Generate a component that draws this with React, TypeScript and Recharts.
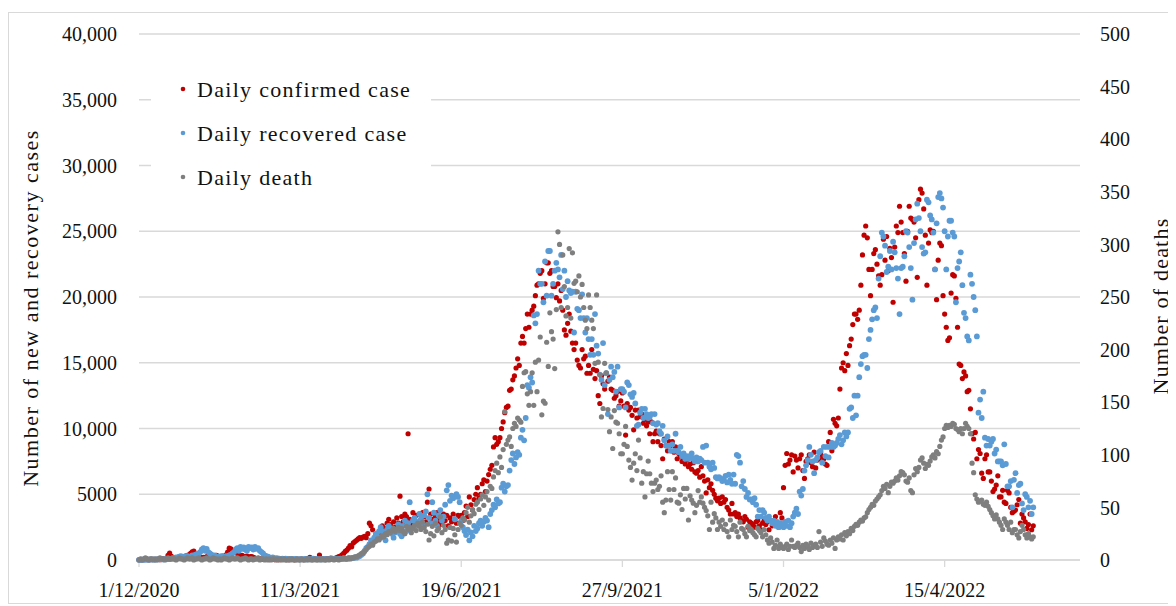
import React from 'react';
import { ScatterChart, Scatter, XAxis, YAxis, CartesianGrid, Legend } from 'recharts';

// Day index 0 = 1/12/2020; ticks every 100 days
const dateTicks = [0, 100, 200, 300, 400, 500];
const dateLabels = ['1/12/2020', '11/3/2021', '19/6/2021', '27/9/2021', '5/1/2022', '15/4/2022'];
const leftTicks = [0, 5000, 10000, 15000, 20000, 25000, 30000, 35000, 40000];
const leftTickLabels = ['0', '5000', '10,000', '15,000', '20,000', '25,000', '30,000', '35,000', '40,000'];
const rightTicks = [0, 50, 100, 150, 200, 250, 300, 350, 400, 450, 500];

const seriesNames = ['Daily confirmed case', 'Daily recovered case', 'Daily death'];
const seriesColors = ['#C00000', '#5B9BD5', '#7F7F7F'];

const confirmed = [
  20, 30, 10, 40, 20, 60, 30, 20, 50, 40,
  30, 50, 40, 20, 60, 80, 50, 40, 350, 530,
  300, 150, 100, 120, 200, 150, 180, 250, 200, 300,
  350, 400, 500, 620, 680, 450, 300, 250, 200, 150,
  200, 150, 250, 300, 200, 100, 150, 200, 350, 300,
  250, 200, 300, 250, 400, 600, 900, 850, 700, 650,
  700, 500, 400, 300, 350, 280, 250, 300, 200, 250,
  250, 200, 150, 100, 120, 80, 60, 50, 70, 40,
  50, 30, 40, 60, 30, 50, 20, 40, 30, 50,
  40, 30, 50, 20, 60, 40, 30, 20, 40, 50,
  60, 40, 30, 50, 80, 100, 200, 120, 60, 50,
  70, 50, 380, 120, 60, 50, 80, 60, 100, 150,
  120, 100, 150, 200, 250, 300, 400, 500, 650, 750,
  900, 1100, 1000, 1300, 1400, 1500, 1600, 1700, 1650, 1750,
  1800, 1700, 2000, 2800, 2600, 2300, 1500, 1900, 1800, 2100,
  2200, 2600, 2400, 2000, 2800, 3100, 2700, 2400, 2900, 2500,
  3200, 2800, 4850, 3300, 2900, 3500, 3300, 9600, 3100, 2700,
  3600, 3200, 3400, 2800, 3500, 3100, 3600, 3300, 2900, 4400,
  5400, 3500, 3100, 2800, 3300, 3600, 3000, 2700, 3300, 3500,
  3000, 3400, 2600, 3200, 2900, 3500, 3100, 2800, 3400, 3300,
  3400, 3000, 3600, 4100, 3300, 4800, 4200, 3800, 4600, 5000,
  5500, 4700, 5000, 5800, 6100, 5200, 6000, 6500, 6900, 7200,
  8600, 9300, 8800, 9000, 9300, 10000, 10500, 11200, 11600, 11700,
  12900, 13000, 13700, 14000, 14600, 15300, 14800, 16500, 17000, 16500,
  17600, 18700, 17700, 18700, 19000, 19300, 20100, 20900, 21000, 21800,
  22000, 19900, 21000, 22600, 22600, 21800, 22000, 20800, 20800, 19950,
  21000, 19700, 20500, 19000, 17500, 17100, 18000, 18700, 17400, 16500,
  16000, 16500, 15200, 14800, 14600, 16000, 15300, 15500, 14200, 14800,
  14200, 16000, 14500, 13800, 14400, 12500, 11900, 14000, 13400, 13000,
  14200, 13600, 13900, 13000, 12900, 12300, 12500, 12800, 11700, 12100,
  12700, 11700, 9500, 11900, 11400, 11600, 11000, 9900, 11400, 10800,
  11400, 10900, 11100, 10400, 10700, 10200, 10500, 9600, 10500, 9000,
  9600, 9800, 9000, 9600, 8700, 7700, 9200, 8700, 8300, 9000,
  8700, 9000, 8200, 8600, 7700, 8100, 7900, 7500, 7800, 7300,
  7600, 7100, 7300, 6900, 7400, 6700, 6600, 6800, 6300, 7100,
  6400, 6000, 5100, 6100, 5500, 5800, 5300, 5000, 4700, 4500,
  4700, 4300, 4800, 4400, 4600, 4000, 3800, 3500, 4300, 3500,
  3600, 3300, 3500, 3200, 3000, 2900, 3300, 3100, 2500, 2900,
  2800, 2700, 2500, 2900, 3000, 2600, 2300, 2800, 3000, 2700,
  2900, 2300, 3000, 2600, 2800, 3300, 2700, 2500, 3600, 3200,
  5500, 7200, 8100, 7300, 7600, 8000, 6700, 7900, 7600, 7000,
  7700, 8000, 6800, 6200, 7500, 7700, 8000, 7400, 7100, 8200,
  7000, 7600, 7700, 8200, 7900, 7700, 7300, 7200, 9000, 9700,
  8300, 10700, 10400, 10200, 10800, 13000, 14600, 15000, 14400, 15700,
  14800, 16300, 16800, 17900, 18700, 18700, 18300, 19000, 20900, 23200,
  24700, 25400, 24500, 22100, 20100, 22100, 23300, 23600, 22500, 21600,
  20900, 21700, 24400, 22800, 24600, 22000, 23700, 23000, 19600, 23800,
  25400, 24900, 26900, 25700, 24900, 23300, 21200, 25000, 26900, 26000,
  25900, 25700, 24500, 21500, 27400, 28200, 27900, 26700, 24700, 20900,
  24100, 25100, 24900, 25000, 22100, 19800, 22800, 24100, 23900, 20100,
  18700, 17700, 16700, 16900, 20300, 21700, 21600, 19900, 17700, 14900,
  14800, 13800, 14300, 14000, 12800, 12900, 11500, 9600, 9200, 9700,
  7700, 8400, 8100, 6600, 6200, 7700, 8000, 6700, 6700, 6000,
  5200, 5400, 5700, 6400, 4800, 4800, 5300, 4400, 4300, 5300,
  5100, 4000, 3600, 3700, 3800, 4200, 4600, 2800, 3500, 3200,
  2900, 2400, 2700, 3500, 2300, 2600,
];

const recovered = [
  10, 20, 30, 20, 40, 30, 20, 50, 30, 40,
  30, 50, 40, 60, 50, 40, 70, 50, 60, 80,
  100, 120, 150, 200, 180, 250, 300, 200, 250, 300,
  300, 250, 200, 350, 300, 400, 450, 500, 600, 800,
  900, 700, 850, 600, 500, 400, 300, 350, 200, 250,
  200, 300, 250, 200, 300, 250, 350, 400, 500, 600,
  800, 900, 700, 1000, 850, 950, 800, 700, 1000, 900,
  950, 800, 1000, 850, 900, 700, 600, 500, 350, 300,
  250, 200, 150, 200, 100, 150, 120, 100, 80, 100,
  80, 100, 60, 50, 80, 70, 60, 90, 50, 60,
  40, 60, 50, 80, 40, 70, 60, 50, 100, 80,
  60, 70, 50, 40, 80, 60, 50, 70, 60, 90,
  80, 60, 100, 90, 70, 110, 80, 120, 100, 90,
  120, 150, 130, 160, 200, 180, 250, 300, 400, 500,
  700, 900, 1000, 1200, 1500, 1300, 1700, 2000, 1800, 2200,
  2500, 2200, 1900, 1500, 2300, 2600, 2400, 2000, 1700, 2100,
  2300, 2700, 2000, 1800, 2600, 3000, 2200, 2800, 4400, 2400,
  3000, 3200, 2600, 2900, 3500, 3100, 2700, 3400, 3700, 5000,
  3200, 2800, 4400, 3600, 3000, 2600, 3400, 3800, 3000, 3300,
  4200, 5300, 5700, 4500, 4900, 4700, 3100, 5000, 4800, 4400,
  3000, 2500, 2200, 1900, 2300, 1500, 2100, 1800, 2600, 2200,
  2400, 2800, 3000, 2600, 2900, 3200, 3000, 2500, 3500, 3800,
  4200, 4000, 4600, 4300, 4400, 5500, 5800, 5200, 5600, 5700,
  6800, 7600, 8100, 7300, 7800, 8200, 8000, 9300, 9900, 9100,
  10800, 13300, 13100, 13900, 13500, 18600, 18000, 18700, 22000, 21000,
  21000, 19600, 22700, 20100, 23500, 23500, 20100, 21000, 22000, 22600,
  22100, 21500, 23200, 20600, 22000, 20000, 21200, 20500, 20300, 20400,
  17300, 20400, 19100, 19000, 18400, 20200, 18400, 17300, 18400, 16800,
  15600, 16800, 15600, 18700, 16300, 15700, 14100, 13700, 16500, 13300,
  14200, 11100, 13700, 14700, 13900, 14300, 12800, 14700, 11600, 13000,
  13000, 12800, 11600, 13500, 13300, 12600, 12400, 12700, 11900, 10200,
  10300, 11200, 11500, 10800, 11500, 11100, 10800, 10900, 11100, 10400,
  11100, 10300, 10400, 9800, 9600, 10200, 9100, 8700, 9400, 8700,
  8300, 8800, 8300, 9600, 8300, 8200, 8600, 7900, 8100, 7700,
  7900, 7700, 7900, 8100, 7700, 7500, 7800, 7500, 7700, 7600,
  8600, 7400, 8700, 7400, 7100, 6900, 7400, 7000, 6300, 6200,
  6300, 6200, 6000, 6100, 6400, 5900, 6500, 6100, 5800, 6500,
  5800, 8000, 7900, 7400, 5600, 6000, 5400, 4800, 5100, 4600,
  4600, 4400, 4700, 4200, 3300, 3800, 3300, 3800, 3600, 3200,
  3000, 3300, 3000, 2800, 3000, 2600, 2900, 2500, 2800, 2700,
  2500, 2900, 2600, 3000, 2500, 2800, 3300, 3600, 3900, 3500,
  5200, 4900, 5400, 6800, 7200, 7600, 8600, 8000, 7500, 6600,
  7600, 7800, 8200, 8300, 7400, 8600, 7900, 8600, 7800, 8600,
  8900, 8600, 8700, 8900, 9200, 9500, 8800, 9100, 9700, 9400,
  9700, 11500, 11600, 10800, 12500, 11000, 12500, 13900, 14900, 15500,
  15600, 15600, 14600, 16800, 17500, 18300, 19000, 19200, 18400, 21400,
  23100, 24900, 24600, 23900, 21900, 22300, 23500, 22100, 24200, 23400,
  22200, 21400, 18700, 22200, 22300, 23100, 25000, 24900, 23800, 22200,
  19800, 24100, 25900, 27100, 26000, 25000, 23800, 23300, 23400, 27400,
  27200, 26200, 25900, 24900, 22100, 25600, 27600, 27900, 27500, 26800,
  25000, 22100, 24600, 25800, 25800, 24900, 24600, 19600, 22200, 22700,
  23400, 20900, 18800, 18400, 17000, 16700, 21700, 21000, 20000, 19000,
  17000, 11200, 12200, 10800, 12800, 9300, 8700, 9200, 8700, 9000,
  9200, 8100, 8400, 7500, 7500, 7500, 7200, 8800, 7300, 5600,
  5600, 6000, 4000, 6100, 6600, 5100, 5700, 5800, 4300, 3800,
  5000, 4800, 4000, 4500, 3500, 4000,
];

const deaths = [
  0, 1, 0, 1, 2, 1, 0, 1, 1, 0,
  1, 0, 1, 2, 1, 1, 0, 1, 2, 1,
  1, 2, 1, 0, 1, 2, 1, 1, 0, 1,
  2, 1, 1, 2, 0, 1, 1, 2, 1, 0,
  1, 1, 2, 1, 0, 1, 2, 1, 1, 0,
  1, 0, 1, 2, 1, 1, 0, 1, 2, 1,
  1, 2, 1, 0, 1, 1, 2, 1, 0, 1,
  1, 0, 1, 1, 2, 0, 1, 1, 0, 1,
  0, 1, 0, 1, 1, 0, 1, 0, 1, 0,
  1, 0, 0, 1, 0, 1, 0, 0, 1, 0,
  0, 1, 0, 0, 1, 0, 1, 0, 0, 1,
  0, 0, 1, 0, 1, 0, 0, 1, 0, 1,
  1, 0, 1, 1, 0, 1, 1, 2, 1, 1,
  2, 1, 2, 2, 3, 3, 4, 5, 6, 7,
  8, 10, 12, 13, 15, 14, 17, 18, 20, 19,
  21, 23, 22, 25, 24, 27, 26, 28, 30, 27,
  29, 31, 28, 30, 27, 25, 32, 29, 31, 26,
  30, 33, 28, 35, 32, 29, 36, 31, 27, 34,
  19, 25, 32, 23, 35, 28, 30, 41, 26, 33,
  29, 16, 19, 31, 18, 30, 24, 17, 29, 35,
  33, 40, 38, 45, 50, 36, 42, 48, 44, 53,
  55, 48, 58, 62, 52, 60, 65, 57, 70, 68,
  79, 85, 92, 83, 98, 88, 105, 141, 110, 114,
  117, 108, 125, 130, 127, 135, 133, 131, 165, 178,
  179, 158, 147, 160, 178, 147, 188, 160, 190, 212,
  138, 151, 149, 207, 184, 235, 217, 210, 182, 238,
  312, 300, 240, 290, 260, 232, 240, 296, 230, 292,
  263, 265, 255, 270, 250, 262, 240, 228, 220, 252,
  240, 228, 220, 187, 252, 188, 176, 136, 144, 187,
  178, 143, 122, 136, 106, 142, 131, 130, 120, 101,
  101, 110, 127, 108, 95, 88, 76, 92, 101, 85,
  114, 97, 73, 84, 60, 82, 94, 82, 73, 65,
  73, 76, 67, 70, 80, 55, 45, 57, 84, 67,
  57, 84, 67, 78, 55, 54, 62, 48, 68, 58,
  68, 38, 61, 57, 54, 45, 52, 66, 55, 60,
  54, 50, 47, 42, 29, 55, 36, 44, 40, 29,
  36, 32, 38, 29, 34, 27, 22, 38, 29, 33,
  32, 27, 22, 36, 30, 29, 25, 22, 32, 28,
  29, 26, 24, 22, 30, 28, 26, 22, 29, 24,
  19, 16, 21, 17, 11, 14, 19, 11, 15, 12,
  11, 13, 15, 10, 13, 19, 13, 12, 14, 16,
  12, 8, 14, 11, 15, 13, 10, 16, 12, 14,
  15, 12, 27, 17, 13, 21, 18, 15, 14, 19,
  16, 21, 11, 19, 22, 20, 24, 19, 26, 23,
  27, 25, 30, 28, 32, 34, 33, 36, 38, 37,
  40, 41, 45, 48, 50, 53, 52, 56, 58, 60,
  62, 66, 70, 68, 72, 64, 70, 74, 73, 75,
  78, 76, 80, 84, 83, 81, 75, 74, 78, 66,
  64, 81, 87, 84, 88, 95, 97, 92, 87, 91,
  90, 94, 98, 100, 97, 103, 101, 108, 114, 117,
  125, 128, 126, 128, 127, 130, 129, 125, 124, 122,
  125, 120, 125, 130, 127, 125, 120, 92, 83, 62,
  58, 55, 56, 57, 53, 52, 55, 51, 48, 45,
  42, 39, 43, 39, 36, 33, 29, 39, 36, 33,
  29, 36, 26, 29, 29, 24, 21, 27, 33, 29,
  24, 21, 25, 22, 20, 22,
];

const toPoints = (arr: number[]) => arr.map((v, i) => ({ day: i, value: v }));
const confirmedData = toPoints(confirmed);
const recoveredData = toPoints(recovered);
const deathData = toPoints(deaths);

const FONT = '"Liberation Serif", "Times New Roman", serif';
const TEXT = '#111111';
const GRID = '#d9d9d9';

const dot = (color: string, r: number) => (p: any) =>
  p.cx == null || p.cy == null ? <g /> : <circle cx={p.cx} cy={p.cy} r={r} fill={color} />;

const renderLegend = () => (
  <svg width={280} height={150} style={{ display: 'block', background: '#ffffff' }}>
    {seriesNames.map((name, i) => (
      <g key={name}>
        <circle cx={32} cy={29 + i * 44} r={2.3} fill={seriesColors[i]} />
        <text
          x={46}
          y={29 + i * 44}
          dominantBaseline="central"
          fontFamily={FONT}
          fontSize={22}
          letterSpacing={1.3}
          fill={TEXT}
        >
          {name}
        </text>
      </g>
    ))}
  </svg>
);

const leftTitle = (props: any) => {
  const vb = props.viewBox || { x: 0, y: 21, width: 130, height: 526 };
  const cx = vb.x + 21;
  const cy = vb.y + 274;
  return (
    <text
      x={cx}
      y={cy}
      transform={`rotate(-90, ${cx}, ${cy})`}
      textAnchor="middle"
      dominantBaseline="central"
      fontFamily={FONT}
      fontSize={22}
      letterSpacing={1.5}
      fill={TEXT}
    >
      Number of new and recovery cases
    </text>
  );
};

const rightTitle = (props: any) => {
  const vb = props.viewBox || { x: 1071, y: 21, width: 95, height: 526 };
  const cx = vb.x + 80;
  const cy = vb.y + 272;
  return (
    <text
      x={cx}
      y={cy}
      transform={`rotate(-90, ${cx}, ${cy})`}
      textAnchor="middle"
      dominantBaseline="central"
      fontFamily={FONT}
      fontSize={22}
      letterSpacing={1.2}
      fill={TEXT}
    >
      Number of deaths
    </text>
  );
};

export default function App() {
  return (
    <div
      style={{
        marginTop: 4,
        width: 1167,
        height: 590,
        borderTop: `1px solid ${GRID}`,
        borderLeft: `1px solid ${GRID}`,
        borderBottom: `1px solid ${GRID}`,
        background: '#ffffff',
        fontFamily: FONT,
      }}
    >
      <ScatterChart width={1166} height={590} margin={{ top: 21, right: 0, bottom: 0, left: 0 }}>
        <CartesianGrid horizontal vertical={false} stroke={GRID} strokeWidth={1.3} />
        <XAxis
          dataKey="day"
          type="number"
          domain={[0, 584]}
          ticks={dateTicks}
          tickFormatter={(v: number) => dateLabels[dateTicks.indexOf(v)] ?? ''}
          height={43}
          axisLine={{ stroke: GRID, strokeWidth: 1.3 }}
          tickLine={{ stroke: GRID, strokeWidth: 1.3 }}
          tickSize={7}
          tickMargin={16}
          tick={{ fontSize: 20, fill: TEXT, fontFamily: FONT }}
          interval={0}
        />
        <YAxis
          dataKey="value"
          type="number"
          domain={[0, 40000]}
          ticks={leftTicks}
          tickFormatter={(v: number) => leftTickLabels[leftTicks.indexOf(v)] ?? ''}
          width={130}
          axisLine={false}
          tickLine={false}
          tickSize={0}
          tickMargin={22}
          tick={{ fontSize: 20, fill: TEXT, fontFamily: FONT }}
          interval={0}
          label={{ content: leftTitle }}
        />
        <YAxis
          yAxisId="right"
          orientation="right"
          dataKey="value"
          type="number"
          domain={[0, 500]}
          ticks={rightTicks}
          width={95}
          axisLine={false}
          tickLine={false}
          tickSize={0}
          tickMargin={20}
          tick={{ fontSize: 20, fill: TEXT, fontFamily: FONT, textAnchor: 'start' }}
          interval={0}
          label={{ content: rightTitle }}
        />
        <Scatter
          name={seriesNames[0]}
          data={confirmedData}
          fill={seriesColors[0]}
          shape={dot(seriesColors[0], 2.6)}
          isAnimationActive={false}
        />
        <Scatter
          name={seriesNames[1]}
          data={recoveredData}
          fill={seriesColors[1]}
          shape={dot(seriesColors[1], 2.9)}
          isAnimationActive={false}
        />
        <Scatter
          name={seriesNames[2]}
          yAxisId="right"
          data={deathData}
          fill={seriesColors[2]}
          shape={dot(seriesColors[2], 2.6)}
          isAnimationActive={false}
        />
        <Legend
          layout="vertical"
          align="center"
          verticalAlign="middle"
          wrapperStyle={{ left: 142, top: 47, width: 280, height: 150 }}
          content={renderLegend}
        />
      </ScatterChart>
    </div>
  );
}
